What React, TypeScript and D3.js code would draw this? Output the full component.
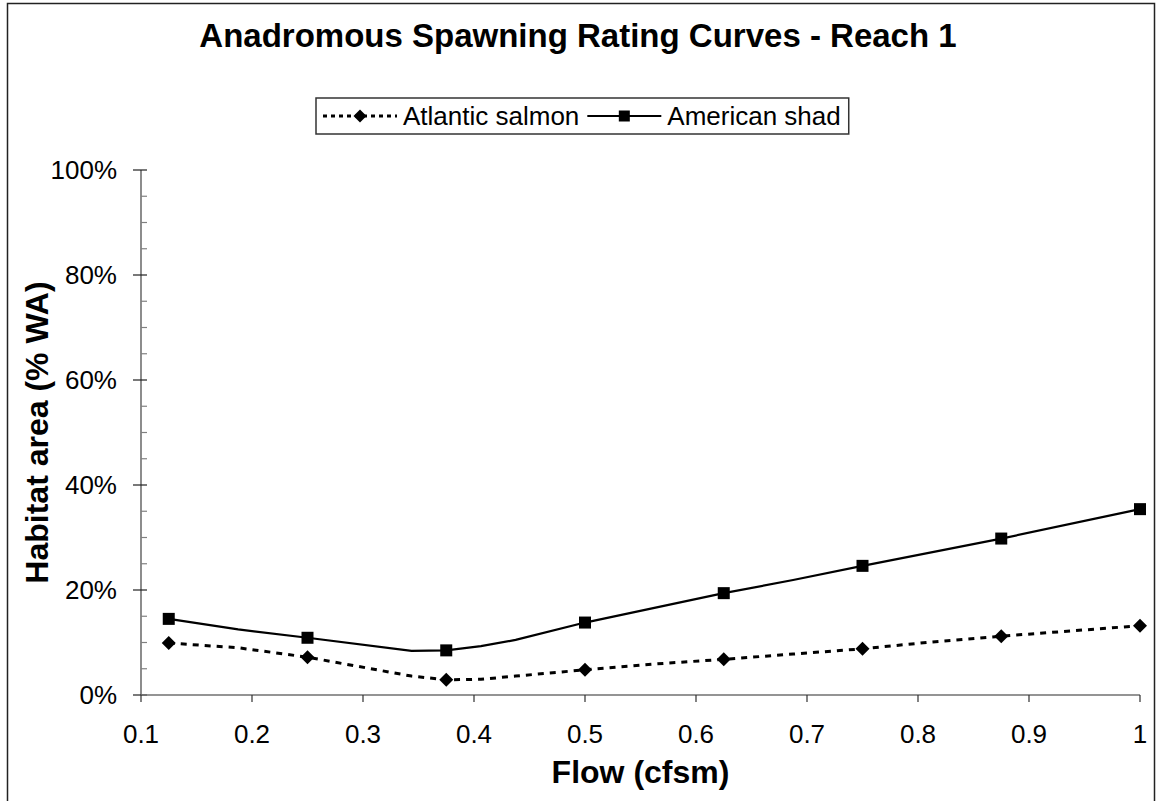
import React, { useEffect, useRef } from 'react';
import * as d3 from 'd3';

const chartTitle = 'Anadromous Spawning Rating Curves - Reach 1';
const xAxisTitle = 'Flow (cfsm)';
const yAxisTitle = 'Habitat area (% WA)';
const seriesNames = ['Atlantic salmon', 'American shad'];

const xTickValues = [0.1, 0.2, 0.3, 0.4, 0.5, 0.6, 0.7, 0.8, 0.9, 1.0];
const xTickLabels = ['0.1', '0.2', '0.3', '0.4', '0.5', '0.6', '0.7', '0.8', '0.9', '1'];
const yTickValues = [0, 20, 40, 60, 80, 100];
const yTickLabels = ['0%', '20%', '40%', '60%', '80%', '100%'];
const yMinorTickValues = [5, 10, 15, 25, 30, 35, 45, 50, 55, 65, 70, 75, 85, 90, 95];

// Flows where markers are drawn
const markerFlows = [0.125, 0.25, 0.375, 0.5, 0.625, 0.75, 0.875, 1.0];

// Atlantic salmon (% WA)
const salmonFlows = [0.125, 0.1875, 0.25, 0.34375, 0.375, 0.40625, 0.4375, 0.5, 0.5625, 0.625, 0.6875, 0.75, 0.8125, 0.875, 0.9375, 1.0];
const salmonValues = [9.9, 9.0, 7.2, 3.6, 2.9, 3.0, 3.6, 4.8, 5.9, 6.8, 7.8, 8.8, 10.1, 11.2, 12.2, 13.2];

// American shad (% WA)
const shadFlows = [0.125, 0.1875, 0.25, 0.34375, 0.375, 0.40625, 0.4375, 0.5, 0.625, 0.6875, 0.75, 0.875, 1.0];
const shadValues = [14.5, 12.5, 10.9, 8.4, 8.5, 9.3, 10.5, 13.8, 19.4, 21.9, 24.6, 29.8, 35.4];

const W = 1156;
const H = 801;
const FONT = "'Liberation Sans', Arial, sans-serif";

export default function App() {
  const ref = useRef<SVGSVGElement | null>(null);

  useEffect(() => {
    const svg = d3.select(ref.current);
    svg.selectAll('*').remove();

    const x = d3.scaleLinear().domain([0.1, 1.0]).range([141, 1140]);
    const y = d3.scaleLinear().domain([0, 100]).range([695, 170]);

    svg.append('rect').attr('x', 0).attr('y', 0).attr('width', W).attr('height', H).attr('fill', '#fff');
    // outer chart border
    svg.append('rect')
      .attr('x', 7.5).attr('y', 3.5).attr('width', 1147).attr('height', 830)
      .attr('fill', 'none').attr('stroke', '#222').attr('stroke-width', 1.5);

    // title
    svg.append('text')
      .attr('x', 578).attr('y', 47)
      .attr('text-anchor', 'middle')
      .attr('font-family', FONT).attr('font-weight', 'bold').attr('font-size', 33)
      .text(chartTitle);

    const g = svg.append('g');

    // y axis
    g.append('line').attr('x1', x(0.1)).attr('x2', x(0.1)).attr('y1', y(0)).attr('y2', y(100))
      .attr('stroke', '#404040').attr('stroke-width', 1.2);
    g.selectAll('.ymin').data(yMinorTickValues).enter().append('line')
      .attr('x1', x(0.1)).attr('x2', x(0.1) + 6)
      .attr('y1', (d) => y(d)).attr('y2', (d) => y(d))
      .attr('stroke', '#808080').attr('stroke-width', 1.2);
    g.selectAll('.ymaj').data(yTickValues).enter().append('line')
      .attr('x1', x(0.1) - 8).attr('x2', x(0.1) + 6)
      .attr('y1', (d) => y(d)).attr('y2', (d) => y(d))
      .attr('stroke', '#202020').attr('stroke-width', 1.2);
    g.selectAll('.ylab').data(yTickValues).enter().append('text')
      .attr('x', 117).attr('y', (d) => y(d) + 9)
      .attr('text-anchor', 'end')
      .attr('font-family', FONT).attr('font-size', 26)
      .text((d, i) => yTickLabels[i]);

    // x axis
    g.append('line').attr('x1', x(0.1)).attr('x2', x(1)).attr('y1', y(0)).attr('y2', y(0))
      .attr('stroke', '#707070').attr('stroke-width', 1.5);
    g.selectAll('.xt').data(xTickValues).enter().append('line')
      .attr('x1', (d) => x(d)).attr('x2', (d) => x(d))
      .attr('y1', y(0)).attr('y2', y(0) + 7)
      .attr('stroke', '#303030').attr('stroke-width', 1.2);
    g.selectAll('.xlab').data(xTickValues).enter().append('text')
      .attr('x', (d) => x(d)).attr('y', 743)
      .attr('text-anchor', 'middle')
      .attr('font-family', FONT).attr('font-size', 26)
      .text((d, i) => xTickLabels[i]);

    // axis titles
    svg.append('text')
      .attr('x', (x(0.1) + x(1)) / 2).attr('y', 783)
      .attr('text-anchor', 'middle')
      .attr('font-family', FONT).attr('font-weight', 'bold').attr('font-size', 32)
      .text(xAxisTitle);
    svg.append('text')
      .attr('transform', `translate(48, ${(y(0) + y(100)) / 2}) rotate(-90)`)
      .attr('text-anchor', 'middle')
      .attr('font-family', FONT).attr('font-weight', 'bold').attr('font-size', 32)
      .text(yAxisTitle);

    const line = d3.line<[number, number]>().x((d) => x(d[0])).y((d) => y(d[1]));
    const salmon: [number, number][] = salmonFlows.map((f, i) => [f, salmonValues[i]]);
    const shad: [number, number][] = shadFlows.map((f, i) => [f, shadValues[i]]);

    g.append('path').attr('d', line(shad) || '')
      .attr('fill', 'none').attr('stroke', '#000').attr('stroke-width', 2.2);
    g.append('path').attr('d', line(salmon) || '')
      .attr('fill', 'none').attr('stroke', '#000').attr('stroke-width', 3)
      .attr('stroke-dasharray', '6 6');

    const diamond = (cx: number, cy: number, r: number) =>
      `M${cx},${cy - r}L${cx + r},${cy}L${cx},${cy + r}L${cx - r},${cy}Z`;

    const shadMarkers = markerFlows.map((f) => [f, shadValues[shadFlows.indexOf(f)]]);
    const salmonMarkers = markerFlows.map((f) => [f, salmonValues[salmonFlows.indexOf(f)]]);

    g.selectAll('.sq').data(shadMarkers).enter().append('rect')
      .attr('x', (d) => x(d[0]) - 6).attr('y', (d) => y(d[1]) - 6)
      .attr('width', 12).attr('height', 12).attr('fill', '#000');
    g.selectAll('.dm').data(salmonMarkers).enter().append('path')
      .attr('d', (d) => diamond(x(d[0]), y(d[1]), 7)).attr('fill', '#000');

    // legend
    const lg = svg.append('g');
    const box = lg.append('rect').attr('x', 316).attr('y', 98).attr('height', 36)
      .attr('fill', '#fff').attr('stroke', '#333').attr('stroke-width', 1.5);
    const cy = 116;
    const keyLen = 74;
    let cx = 323;
    const fs = 26;
    // salmon sample
    lg.append('line').attr('x1', cx).attr('x2', cx + keyLen).attr('y1', cy).attr('y2', cy)
      .attr('stroke', '#000').attr('stroke-width', 3).attr('stroke-dasharray', '4 4');
    lg.append('path').attr('d', diamond(cx + keyLen / 2, cy, 6.5)).attr('fill', '#000');
    cx += keyLen + 6;
    const t1 = lg.append('text').attr('x', cx).attr('y', cy + 9)
      .attr('font-family', FONT).attr('font-size', fs).text(seriesNames[0]);
    cx += (t1.node() as SVGTextElement).getComputedTextLength() + 8;
    lg.append('line').attr('x1', cx).attr('x2', cx + keyLen).attr('y1', cy).attr('y2', cy)
      .attr('stroke', '#000').attr('stroke-width', 2.2);
    lg.append('rect').attr('x', cx + keyLen / 2 - 5.5).attr('y', cy - 5.5).attr('width', 11).attr('height', 11).attr('fill', '#000');
    cx += keyLen + 6;
    const t2 = lg.append('text').attr('x', cx).attr('y', cy + 9)
      .attr('font-family', FONT).attr('font-size', fs).text(seriesNames[1]);
    cx += (t2.node() as SVGTextElement).getComputedTextLength() + 8;
    box.attr('width', cx - 316);
  }, []);

  return (
    <svg ref={ref} width={W} height={H} style={{ position: 'absolute', left: 0, top: 0, display: 'block' }} />
  );
}
